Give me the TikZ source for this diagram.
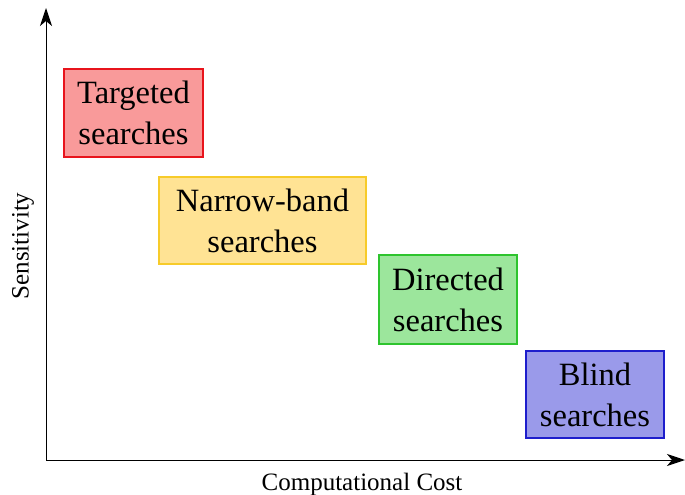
\documentclass[tikz,border=0pt]{standalone}
\usepackage{fontspec}
\setmainfont{Liberation Serif}
\usetikzlibrary{arrows.meta}
\definecolor{redfill}{HTML}{F99A9A}
\definecolor{reddraw}{HTML}{E8141C}
\definecolor{yelfill}{HTML}{FFE394}
\definecolor{yeldraw}{HTML}{F7CB2A}
\definecolor{grnfill}{HTML}{9CE69C}
\definecolor{grndraw}{HTML}{2EC42E}
\definecolor{blufill}{HTML}{9A9AEA}
\definecolor{bludraw}{HTML}{1E1ECC}
\begin{document}
\begin{tikzpicture}[x=1pt,y=-1pt,
  catbox/.style={draw, line width=2pt, minimum height=88pt, align=center,
    font=\fontsize{32.5}{41}\selectfont, inner sep=0pt},
  axis/.style={line width=1pt, -{Stealth[length=18pt,width=12pt,inset=5pt]}},
  axlabel/.style={font=\fontsize{25}{29}\selectfont, inner sep=0pt}]
\useasboundingbox (0,0) rectangle (685,495);
\coordinate (O) at (46,460);
\coordinate (ytip) at (46,8);
\coordinate (xtip) at (685,460);
\draw[axis] (O) -- (ytip);
\draw[axis] (O) -- (xtip);
\node[catbox, fill=redfill, draw=reddraw, minimum width=139pt] (t) at (133.5,113) {Targeted\\searches};
\node[catbox, fill=yelfill, draw=yeldraw, minimum width=207pt, minimum height=87pt] (n) at (262.5,220.5) {Narrow-band\\searches};
\node[catbox, fill=grnfill, draw=grndraw, minimum width=138pt, minimum height=89pt] (d) at (448,299.5) {Directed\\searches};
\node[catbox, fill=blufill, draw=bludraw, minimum width=138pt, minimum height=87pt] (b) at (595,394.5) {Blind\\searches};
\node[axlabel] (xl) at (362,484) {Computational Cost};
\node[axlabel, rotate=90] (yl) at (23,246) {Sensitivity};
\end{tikzpicture}
\end{document}
